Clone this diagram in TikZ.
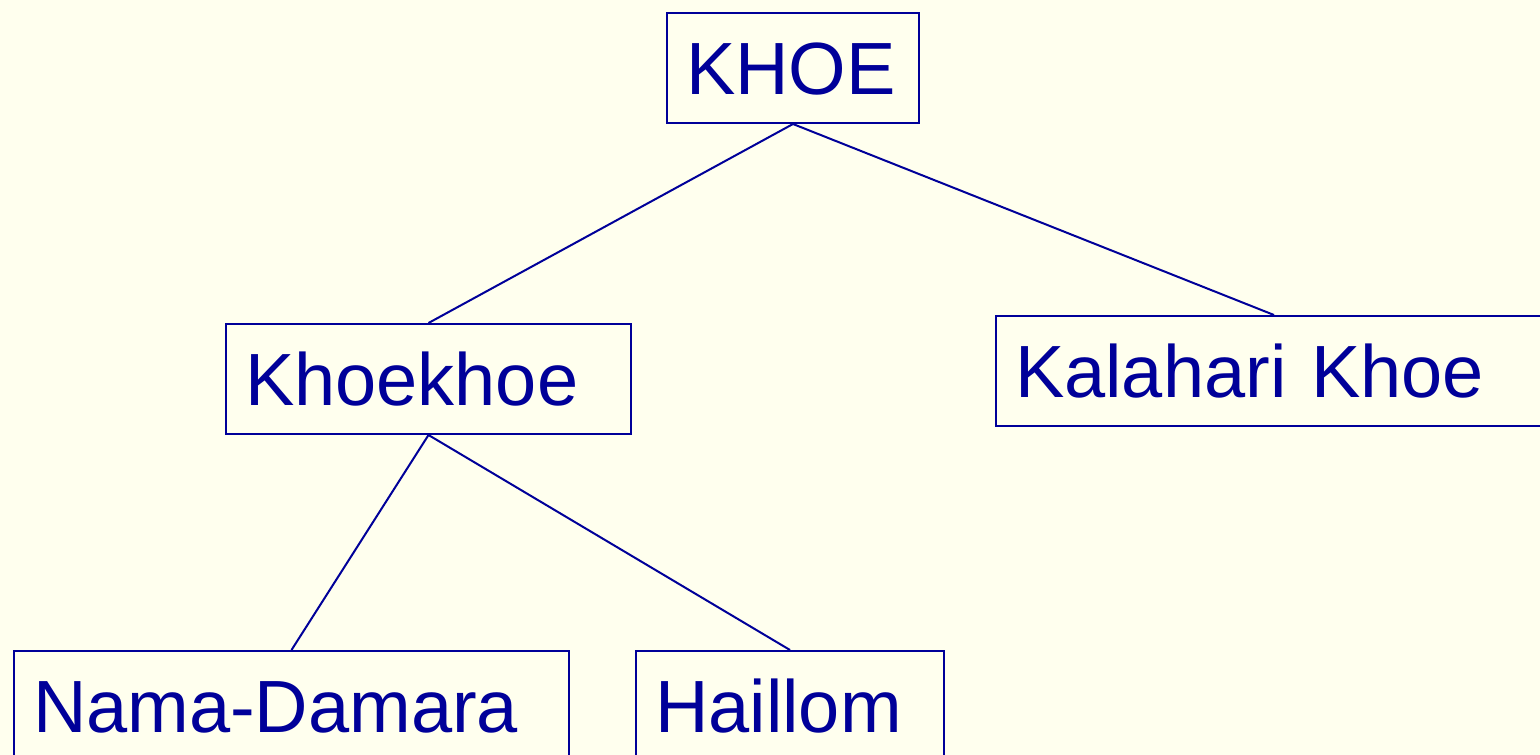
\documentclass[tikz,border=0pt]{standalone}
\usepackage{fontspec}
\setmainfont{Liberation Sans}
\definecolor{bg}{RGB}{255,255,238}
\definecolor{ink}{RGB}{0,0,153}
\begin{document}
\begin{tikzpicture}[x=1pt,y=-1pt,
  box/.style={draw=ink, line width=2pt, text=ink, anchor=north west,
    inner xsep=19pt, inner ysep=0pt, minimum height=110pt, align=left,
    text height=53pt, text depth=0pt,
    font=\fontsize{74}{88}\selectfont},
  link/.style={draw=ink, line width=2pt}]
\useasboundingbox (0,0) rectangle (1540,755);
\fill[bg] (0,0) rectangle (1540,755);
\clip (0,0) rectangle (1540,755);
\node[box, text width=214pt] (khoe) at (666,12) {KHOE};
\node[box, text width=367pt] (kk) at (225,323) {Khoekhoe};
\node[box, text width=518pt] (kal) at (995,315) {Kalahari Khoe};
\node[box, text width=517pt] (nama) at (13,650) {Nama-Damara};
\node[box, text width=270pt] (hai) at (635,650) {Haillom};
\draw[link] (khoe.south) -- (kk.north);
\draw[link] (khoe.south) -- (kal.north);
\draw[link] (kk.south) -- (nama.north);
\draw[link] (kk.south) -- (hai.north);
\end{tikzpicture}
\end{document}
